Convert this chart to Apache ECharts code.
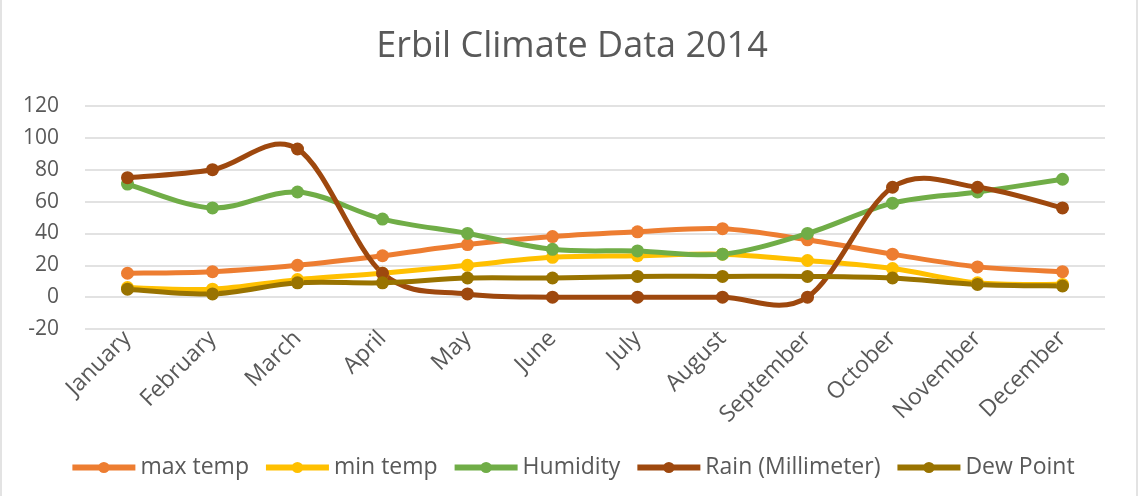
<!DOCTYPE html>
<html><head><meta charset="utf-8">
<script src="https://cdn.jsdelivr.net/npm/echarts@6/dist/echarts.min.js"></script>
<style>html,body{margin:0;padding:0;background:#fff}#c{width:1144px;height:496px}</style>
</head><body><div id="c"></div>
<script>
const months = ["January","February","March","April","May","June","July","August","September","October","November","December"];
const maxTemp = [15,16,20,26,33,38,41,43,36,27,19,16];
const minTemp = [6,5,11,15,20,25,26,27,23,18,9,8];
const humidity = [71,56,66,49,40,30,29,27,40,59,66,74];
const rain = [75,80,93,15,2,0,0,0,0,69,69,56];
const dewPoint = [5,2,9,9,12,12,13,13,13,12,8,7];
const yTicks = {min:-20, max:120, interval:20};

const FONT = '"Open Sans", Lato, sans-serif';
const TXT = '#595959';
const LW = 5;
const chart = echarts.init(document.getElementById('c'));

const defs = [
  ['max temp', maxTemp, '#ED7D31'],
  ['min temp', minTemp, '#FFC000'],
  ['Humidity', humidity, '#70AD47'],
  ['Rain (Millimeter)', rain, '#9E480E'],
  ['Dew Point', dewPoint, '#997300']
];

// Excel-style smoothed curve (Catmull-Rom Bezier) drawn through the axis scales
function curve(name, data, color){
  return {
    name: name + ' curve', type:'custom', silent:true, z:2,
    data: data.map((v,i)=>[i,v]), encode:{x:0,y:1},
    renderItem(params, api){
      const i = params.dataIndex, n = data.length;
      if (i >= n-1) return null;
      const P = k => { k = Math.max(0, Math.min(n-1, k)); return api.coord([k, data[k]]); };
      const p0=P(i-1), p1=P(i), p2=P(i+1), p3=P(i+2), t=1/6;
      return {type:'bezierCurve', shape:{
          x1:p1[0], y1:p1[1], x2:p2[0], y2:p2[1],
          cpx1:p1[0]+(p2[0]-p0[0])*t, cpy1:p1[1]+(p2[1]-p0[1])*t,
          cpx2:p2[0]-(p3[0]-p1[0])*t, cpy2:p2[1]-(p3[1]-p1[1])*t},
        style:{stroke:color, lineWidth:LW, fill:null, lineCap:'round'}};
    }
  };
}
function marks(name, data, color){
  return {name, type:'line', data, symbol:'circle', symbolSize:13, z:3,
    lineStyle:{width:LW, color, opacity:0}, itemStyle:{color}, emphasis:{disabled:true}};
}

chart.setOption({
  animation:false,
  title:{text:'Erbil Climate Data 2014', left:'center', top:24,
    textStyle:{fontFamily:FONT, fontSize:36, fontWeight:'normal', color:TXT}},
  grid:{left:85, right:39, top:106, bottom:167, containLabel:false},
  xAxis:{type:'category', data:months, boundaryGap:true,
    axisLine:{show:false}, axisTick:{show:false},
    axisLabel:{rotate:45, interval:0, margin:6, fontFamily:FONT, fontSize:23, color:TXT}},
  yAxis:{type:'value', min:yTicks.min, max:yTicks.max, interval:yTicks.interval,
    axisLine:{show:false}, axisTick:{show:false},
    axisLabel:{fontFamily:FONT, fontSize:21, color:TXT, margin:26},
    splitLine:{lineStyle:{color:'#d9d9d9', width:1.5}}},
  legend:{bottom:12, left:'center', itemWidth:63, itemHeight:14, itemGap:14,
    textStyle:{fontFamily:FONT, fontSize:23, color:TXT},
    data: defs.map(d=>({name:d[0], lineStyle:{color:d[2], width:LW+1, opacity:1}, itemStyle:{color:d[2], opacity:1}}))},
  graphic:[
    {type:'line', shape:{x1:1,y1:0,x2:1,y2:496}, style:{stroke:'#e3e3e3', lineWidth:2}},
    {type:'line', shape:{x1:1137,y1:0,x2:1137,y2:496}, style:{stroke:'#e3e3e3', lineWidth:2}}
  ],
  series: defs.map(d=>curve(d[0], d[1], d[2])).concat(defs.map(d=>marks(d[0], d[1], d[2])))
});
</script></body></html>
